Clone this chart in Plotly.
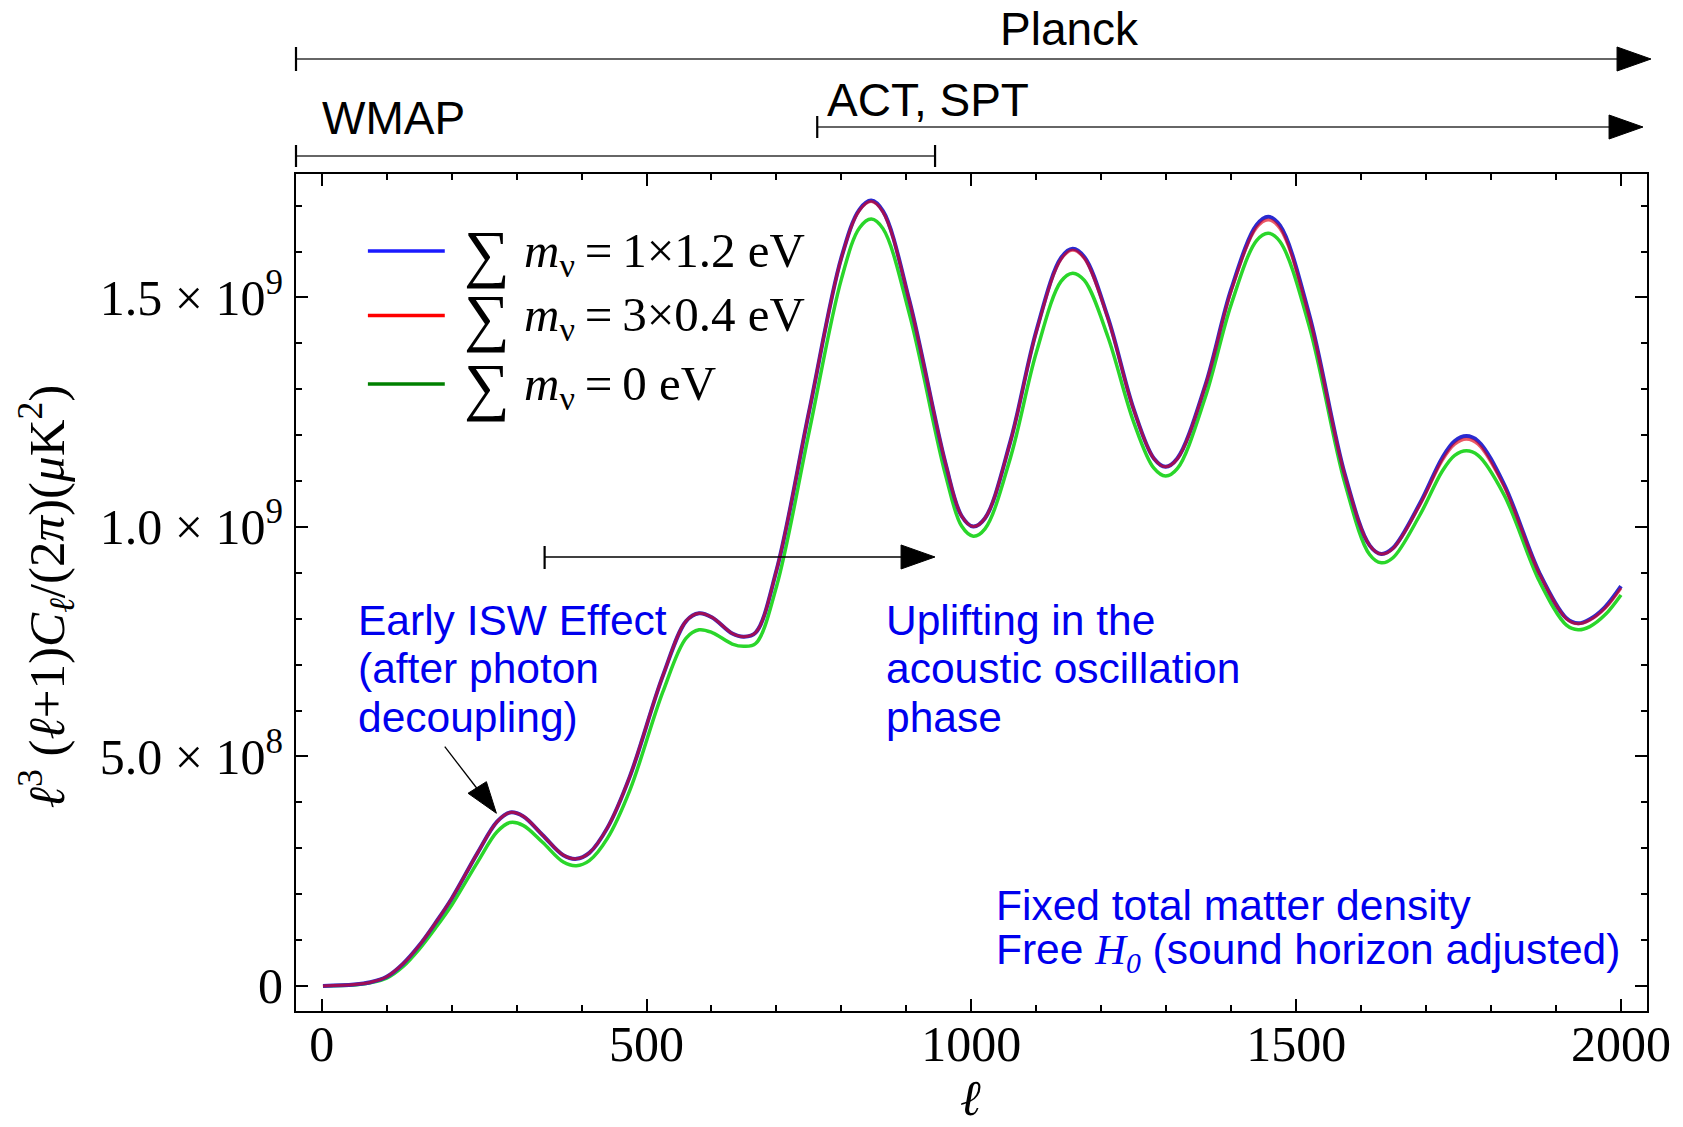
import numpy as np
import plotly.graph_objects as go

# ---------------- data (values in units of 1e9 muK^2) ----------------
ell = [2, 50, 75, 100, 125, 150, 175, 200, 240, 270, 290, 310, 340,
       372, 392, 412, 440, 474, 525, 561, 581, 601, 632,
       650, 668, 700, 750, 800, 828, 846, 864, 905, 960,
       985, 1003, 1021, 1060, 1100, 1138, 1156, 1174, 1210, 1250,
       1281, 1299, 1317, 1360, 1400, 1439, 1457, 1475, 1520, 1575,
       1613, 1631, 1649, 1690, 1725, 1744, 1762, 1780, 1820, 1875,
       1916, 1934, 1952, 1975, 2000]

# sum m_nu = 3 x 0.4 eV (red)
dl_3x04 = [0.000, 0.003, 0.008, 0.020, 0.048, 0.088, 0.137, 0.190, 0.290, 0.358, 0.378, 0.370, 0.329,
           0.285, 0.277, 0.290, 0.345, 0.455, 0.675, 0.795, 0.812, 0.803, 0.768,
           0.761, 0.770, 0.905, 1.250, 1.586, 1.690, 1.709, 1.686, 1.490, 1.140,
           1.024, 1.001, 1.019, 1.185, 1.425, 1.583, 1.603, 1.585, 1.455, 1.255,
           1.149, 1.131, 1.148, 1.306, 1.514, 1.652, 1.669, 1.650, 1.458, 1.112,
           0.960, 0.941, 0.953, 1.047, 1.145, 1.180, 1.191, 1.180, 1.088, 0.896,
           0.800, 0.789, 0.797, 0.822, 0.867]

# sum m_nu = 1 x 1.2 eV (blue)
dl_1x12 = [0.000, 0.003, 0.008, 0.020, 0.048, 0.088, 0.137, 0.190, 0.290, 0.358, 0.378, 0.370, 0.329,
           0.285, 0.277, 0.290, 0.345, 0.455, 0.675, 0.795, 0.812, 0.803, 0.768,
           0.761, 0.770, 0.905, 1.250, 1.587, 1.692, 1.711, 1.688, 1.491, 1.140,
           1.024, 1.001, 1.019, 1.186, 1.427, 1.586, 1.606, 1.588, 1.457, 1.256,
           1.149, 1.131, 1.149, 1.308, 1.518, 1.658, 1.676, 1.657, 1.463, 1.114,
           0.960, 0.941, 0.954, 1.050, 1.151, 1.187, 1.198, 1.187, 1.093, 0.898,
           0.801, 0.790, 0.799, 0.825, 0.871]

# sum m_nu = 0 eV (green)
dl_0 = [0.000, 0.002, 0.007, 0.017, 0.042, 0.080, 0.126, 0.176, 0.270, 0.336, 0.356, 0.350, 0.313,
        0.270, 0.262, 0.273, 0.322, 0.425, 0.640, 0.758, 0.776, 0.770, 0.745,
        0.740, 0.746, 0.870, 1.205, 1.540, 1.652, 1.671, 1.650, 1.462, 1.115,
        1.002, 0.980, 0.996, 1.150, 1.380, 1.535, 1.553, 1.537, 1.415, 1.228,
        1.128, 1.111, 1.127, 1.282, 1.485, 1.624, 1.640, 1.622, 1.438, 1.095,
        0.940, 0.922, 0.933, 1.025, 1.122, 1.156, 1.166, 1.156, 1.070, 0.880,
        0.786, 0.776, 0.783, 0.808, 0.852]

TS = "\u2009"  # thin space as in the Mathematica legend
series_labels = [f"<i>m</i><sub>ν</sub>{TS}={TS}1×1.2 eV",
                 f"<i>m</i><sub>ν</sub>{TS}={TS}3×0.4 eV",
                 f"<i>m</i><sub>ν</sub>{TS}={TS}0 eV"]
legend_colors = ["#1a1aff", "#ff0000", "#008000"]

x_tick_vals = [0, 500, 1000, 1500, 2000]
x_tick_text = ["0", "500", "1000", "1500", "2000"]
y_tick_vals = [0, 5e8, 1e9, 1.5e9]
y_tick_text = ["0", "5.0 × 10<sup>8</sup>", "1.0 × 10<sup>9</sup>", "1.5 × 10<sup>9</sup>"]

SCALE = 1e9
SERIF = "Liberation Serif, Times New Roman, serif"
SANS = "Liberation Sans, Arial, sans-serif"

fig = go.Figure()
fig.add_trace(go.Scatter(x=ell, y=np.array(dl_0) * SCALE, mode="lines",
                         line=dict(color="#2ad62a", width=3.5, shape="spline"),
                         name="Σ m_ν = 0 eV", showlegend=False))
fig.add_trace(go.Scatter(x=ell, y=np.array(dl_1x12) * SCALE, mode="lines",
                         line=dict(color="#2a2ad0", width=4, shape="spline"),
                         name="Σ m_ν = 1×1.2 eV", showlegend=False))
fig.add_trace(go.Scatter(x=ell, y=np.array(dl_3x04) * SCALE, mode="lines",
                         line=dict(color="rgba(225,0,20,0.65)", width=3, shape="spline"),
                         name="Σ m_ν = 3×0.4 eV", showlegend=False))

# ---------------- layout geometry ----------------
W, H = 1683, 1127
L, R, T, B = 296, 1649, 174, 1011


def px(xp):
    return (xp - L) / (R - L)


def py(yp):
    return (B - yp) / (B - T)


axis_common = dict(showgrid=False, zeroline=False, showline=True, linecolor="black",
                   linewidth=2, mirror="allticks", ticks="inside", ticklen=12,
                   tickwidth=2, tickcolor="black",
                   tickfont=dict(family=SERIF, size=50, color="black"))

fig.update_layout(
    width=W, height=H, autosize=False,
    margin=dict(l=L, r=W - R, t=T, b=H - B, pad=0),
    plot_bgcolor="white", paper_bgcolor="white",
    xaxis=dict(range=[-39.5, 2040], tickvals=x_tick_vals, ticktext=x_tick_text,
               ticklabelstandoff=-12,
               minor=dict(tick0=0, dtick=100, ticks="inside", ticklen=6, tickwidth=1.5,
                          tickcolor="black", showgrid=False), **axis_common),
    yaxis=dict(range=[-0.0545e9, 1.769e9], tickvals=y_tick_vals, ticktext=y_tick_text,
               ticklabelstandoff=1,
               minor=dict(tick0=0, dtick=1e8, ticks="inside", ticklen=6, tickwidth=1.5,
                          tickcolor="black", showgrid=False), **axis_common),
    showlegend=False,
)

shapes = []
annotations = []


# ---------------- survey range arrows above the plot ----------------
def hline_paper(x0, x1, y, w=1.6):
    shapes.append(dict(type="line", xref="paper", yref="paper", x0=x0, x1=x1, y0=y, y1=y,
                       line=dict(color="#333333", width=w)))


def vtick_paper(x, y0, y1):
    shapes.append(dict(type="line", xref="paper", yref="paper", x0=x, x1=x, y0=y0, y1=y1,
                       line=dict(color="black", width=2.2)))


def head_paper(xbase, xtip, y, ytop, ybot):
    shapes.append(dict(type="path", xref="paper", yref="paper",
                       path=f"M {xbase} {ytop} L {xtip} {y} L {xbase} {ybot} Z",
                       fillcolor="black", line=dict(color="black", width=1)))


# Planck
hline_paper(px(296), px(1622), py(59))
vtick_paper(px(296), py(47), py(71))
head_paper(px(1619), px(1653), py(59), py(47), py(71))
# ACT, SPT
hline_paper(px(818), px(1614), py(127))
vtick_paper(px(818), py(116), py(138))
head_paper(px(1611), px(1645), py(127), py(115), py(139))
# WMAP
hline_paper(px(296), px(936), py(156))
vtick_paper(px(296), py(145), py(167))
vtick_paper(px(936), py(145), py(167))

for text, x, y, anchor in [("Planck", px(1071), py(29), "center"),
                           ("ACT, SPT", px(826), py(100), "left"),
                           ("WMAP", px(320), py(118), "left")]:
    annotations.append(dict(text=text, x=x, y=y, xref="paper", yref="paper",
                            xanchor=anchor, yanchor="middle", showarrow=False,
                            font=dict(family=SANS, size=46, color="black")))


# ---------------- in-plot arrows (data coordinates) ----------------
def ell_of(xp):
    return (xp - 321.7) / 0.6507


def val_of(yp):
    return (986 - yp) / 459 * SCALE


# Uplifting arrow
shapes.append(dict(type="line", xref="x", yref="y", x0=ell_of(545), x1=ell_of(905),
                   y0=val_of(557), y1=val_of(557), line=dict(color="black", width=1.6)))
shapes.append(dict(type="line", xref="x", yref="y", x0=ell_of(545), x1=ell_of(545),
                   y0=val_of(546), y1=val_of(569), line=dict(color="black", width=2.2)))
shapes.append(dict(type="path", xref="x", yref="y",
                   path=(f"M {ell_of(902)} {val_of(545)} L {ell_of(936)} {val_of(557)} "
                         f"L {ell_of(902)} {val_of(569)} Z"),
                   fillcolor="black", line=dict(color="black", width=1)))
# Early ISW arrow
shapes.append(dict(type="line", xref="x", yref="y", x0=ell_of(445), x1=ell_of(480),
                   y0=val_of(746.7), y1=val_of(792), line=dict(color="black", width=1.3)))
shapes.append(dict(type="path", xref="x", yref="y",
                   path=(f"M {ell_of(468.3)} {val_of(793.3)} L {ell_of(496.7)} {val_of(813.3)} "
                         f"L {ell_of(486.7)} {val_of(781.7)} Z"),
                   fillcolor="black", line=dict(color="black", width=1)))

# ---------------- blue text annotations ----------------
BLUE = "#0000ee"


def blue_line(text, xp, yp):
    annotations.append(dict(text=text, x=px(xp), y=py(yp), xref="paper", yref="paper",
                            xanchor="left", yanchor="middle", showarrow=False,
                            font=dict(family=SANS, size=42.5, color=BLUE)))


for i, t in enumerate(["Early ISW Effect", "(after photon", "decoupling)"]):
    blue_line(t, 356, 620 + 48.5 * i)
for i, t in enumerate(["Uplifting in the", "acoustic oscillation", "phase"]):
    blue_line(t, 885, 620 + 48.5 * i)
blue_line("Fixed total matter density", 995, 905)
blue_line("Free <span style='font-family:Liberation Serif'><i>H</i><sub><i>0</i></sub></span>"
          " (sound horizon adjusted)", 995, 952)

# ---------------- custom legend ----------------
legend_rows_y = [251, 315.5, 384]
for lbl, col, yrow in zip(series_labels, legend_colors, legend_rows_y):
    shapes.append(dict(type="line", xref="paper", yref="paper", x0=px(368), x1=px(445),
                       y0=py(yrow), y1=py(yrow), line=dict(color=col, width=3.5)))
    annotations.append(dict(text="∑", x=px(462), y=py(yrow + 2), xref="paper", yref="paper",
                            xanchor="left", yanchor="middle", showarrow=False,
                            font=dict(family=SERIF, size=64, color="black")))
    annotations.append(dict(text=lbl, x=px(522), y=py(yrow + 2), xref="paper", yref="paper",
                            xanchor="left", yanchor="middle", showarrow=False,
                            font=dict(family=SERIF, size=49, color="black")))

# ---------------- axis titles ----------------
annotations.append(dict(text="<i>ℓ</i>", x=px(971), y=py(1098), xref="paper", yref="paper",
                        xanchor="center", yanchor="middle", showarrow=False,
                        font=dict(family=SERIF, size=50, color="black")))
annotations.append(dict(text="<i>ℓ</i><sup>3</sup> (<i>ℓ</i>+1)<i>C</i><sub><i>ℓ</i></sub>/(2<i>π</i>)(<i>μ</i>K<sup>2</sup>)",
                        x=px(46), y=py(596), xref="paper", yref="paper",
                        xanchor="center", yanchor="middle", showarrow=False, textangle=-90,
                        font=dict(family=SERIF, size=51, color="black")))

fig.update_layout(shapes=shapes, annotations=annotations)
fig.write_html("out.html")
